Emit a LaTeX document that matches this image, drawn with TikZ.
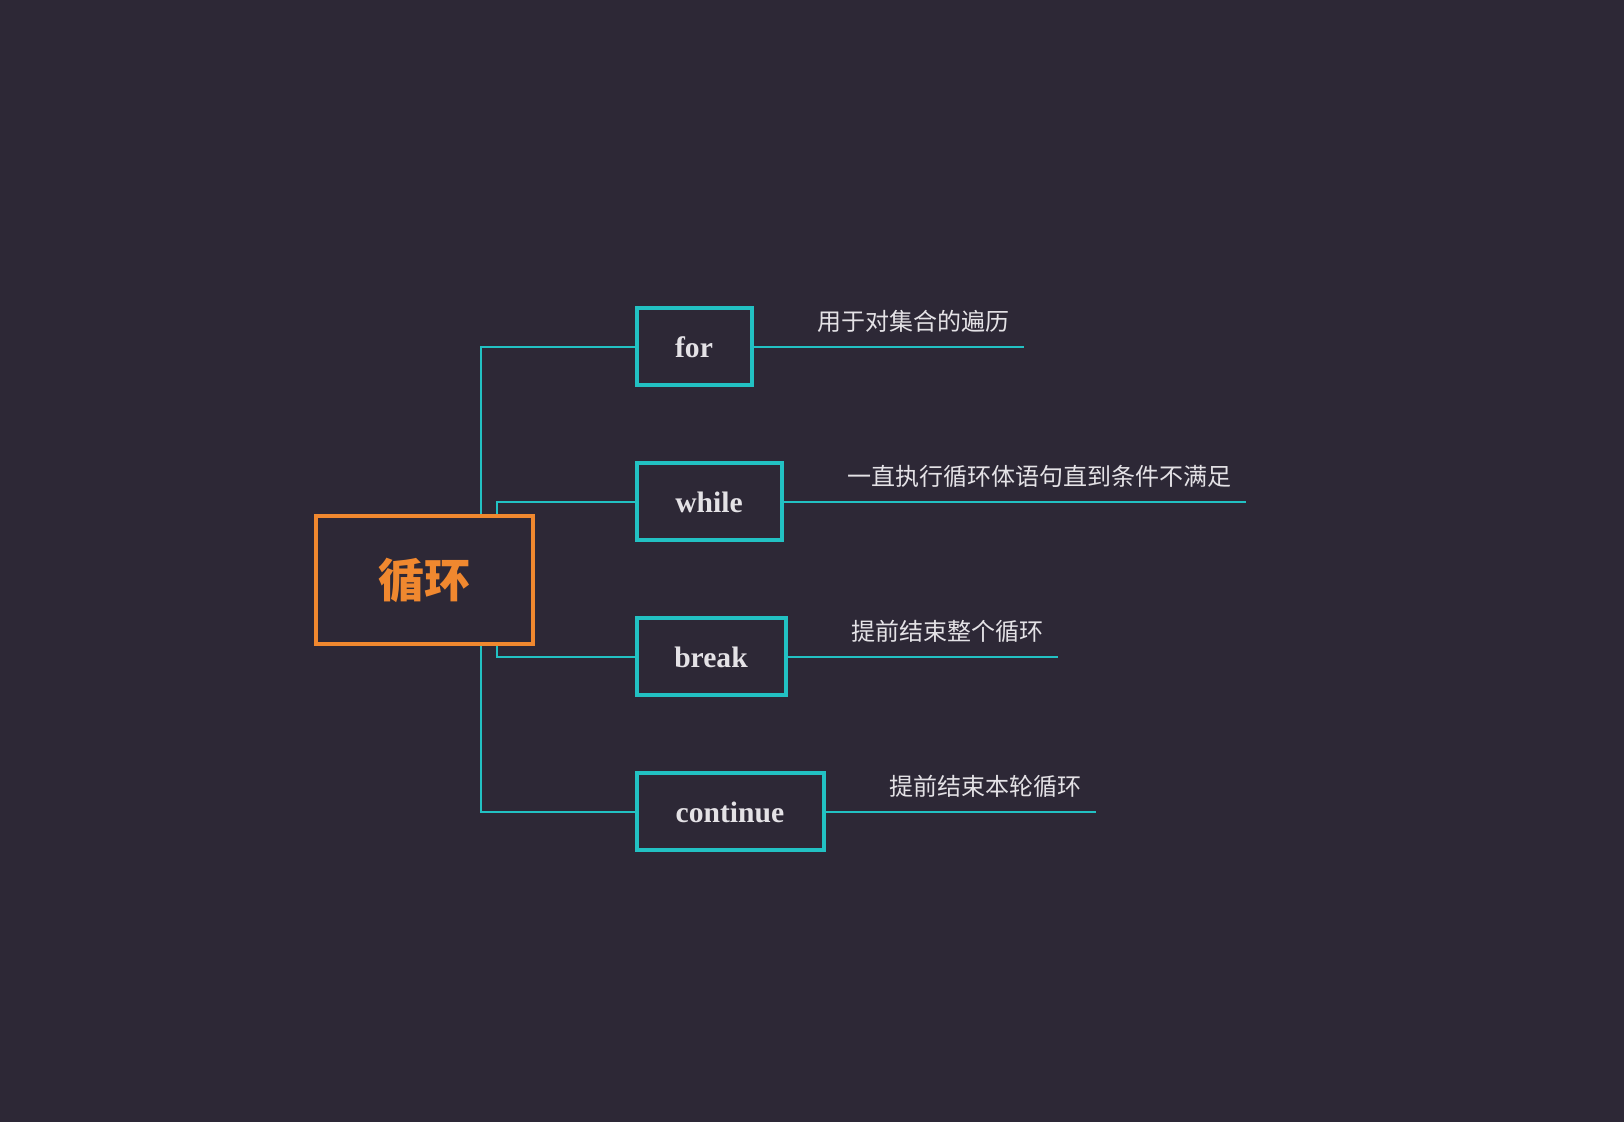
\documentclass[tikz,border=0pt]{standalone}
\usepackage{fontspec}
\setmainfont{Liberation Serif}
\newfontfamily\cjk{Noto Sans CJK SC}
\usetikzlibrary{calc}
\definecolor{bgc}{HTML}{2D2836}
\definecolor{tealc}{HTML}{22C1C3}
\definecolor{orangec}{HTML}{F0882F}
\definecolor{txtc}{HTML}{E4E2E6}
\tikzset{
  conn/.style={draw=tealc, line width=1pt},
  tealbox/.style={draw=tealc, line width=2pt, minimum height=38.5pt, inner sep=0pt,
    text=txtc, font=\fontsize{14.8}{18}\selectfont\bfseries},
  rootbox/.style={draw=orangec, line width=2pt, minimum width=108.5pt, minimum height=64pt,
    inner sep=0pt, text=orangec, font=\cjk\bfseries\fontsize{23}{28}\selectfont},
  lbl/.style={anchor=west, inner sep=0pt, text=txtc, font=\cjk\fontsize{12}{14}\selectfont},
}
\begin{document}
\begin{tikzpicture}[x=0.5pt, y=-0.5pt]
\fill[bgc] (0,0) rectangle (1624,1122);
\useasboundingbox (0,0) rectangle (1624,1122);
\coordinate (v1) at (481,0);
\coordinate (v2) at (497,0);
\node[rootbox] (root) at (424.5,580) {循环};
\node[tealbox, minimum width=57.5pt] (for) at (694,347) {for};
\node[tealbox, minimum width=72.5pt] (while) at (709,502) {while};
\node[tealbox, minimum width=74.5pt] (brk) at (711,657) {break};
\node[tealbox, minimum width=93.5pt] (cont) at (730,812) {continue};
\draw[conn] (root.north -| v1) |- (for.west);
\draw[conn] (root.north -| v2) |- (while.west);
\draw[conn] (root.south -| v2) |- (brk.west);
\draw[conn] (root.south -| v1) |- (cont.west);
\node[lbl] (lfor) at ([xshift=32pt, yshift=13pt]for.east) {用于对集合的遍历};
\node[lbl] (lwhile) at ([xshift=32pt, yshift=13pt]while.east) {一直执行循环体语句直到条件不满足};
\node[lbl] (lbrk) at ([xshift=32pt, yshift=13pt]brk.east) {提前结束整个循环};
\node[lbl] (lcont) at ([xshift=32pt, yshift=13pt]cont.east) {提前结束本轮循环};
\draw[conn] (for.east) -- ($(for.east -| lfor.east)+(14,0)$);
\draw[conn] (while.east) -- ($(while.east -| lwhile.east)+(14,0)$);
\draw[conn] (brk.east) -- ($(brk.east -| lbrk.east)+(14,0)$);
\draw[conn] (cont.east) -- ($(cont.east -| lcont.east)+(14,0)$);
\end{tikzpicture}
\end{document}
